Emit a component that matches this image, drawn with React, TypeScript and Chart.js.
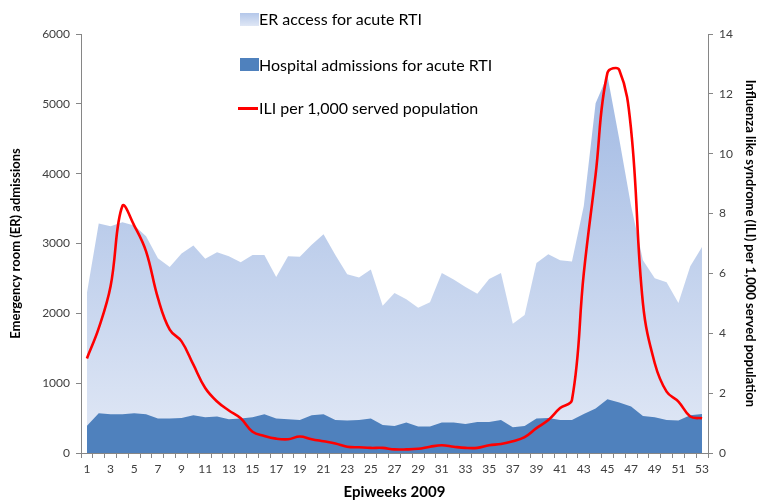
import React, { useEffect, useRef } from "react";
import { Chart, registerables } from "chart.js";

Chart.register(...registerables);

const weeks = [
  "1", "2", "3", "4", "5", "6", "7", "8", "9", "10",
  "11", "12", "13", "14", "15", "16", "17", "18", "19", "20",
  "21", "22", "23", "24", "25", "26", "27", "28", "29", "30",
  "31", "32", "33", "34", "35", "36", "37", "38", "39", "40",
  "41", "42", "43", "44", "45", "46", "47", "48", "49", "50",
  "51", "52", "53",
];

const erAccess = [
  2292, 3287, 3248, 3306, 3258, 3105, 2789, 2665, 2856, 2971,
  2780, 2876, 2818, 2732, 2837, 2837, 2522, 2818, 2809, 2981,
  3134, 2837, 2560, 2512, 2627, 2110, 2292, 2200, 2081, 2158,
  2579, 2483, 2378, 2282, 2493, 2579, 1852, 1976, 2722, 2847,
  2761, 2742, 3536, 5010, 5401, 4493, 3536, 2761, 2502, 2445,
  2148, 2675, 2952,
];

const hospitalAdmissions = [
  388, 569, 555, 555, 569, 555, 493, 493, 500, 541,
  512, 522, 483, 493, 512, 555, 493, 483, 474, 541,
  555, 474, 464, 474, 493, 400, 385, 435, 378, 378,
  435, 435, 416, 445, 445, 474, 368, 388, 493, 502,
  474, 474, 560, 636, 771, 722, 665, 531, 512, 474,
  464, 541, 560,
];

const iliRate = [
  3.16, 4.17, 5.57, 8.25, 7.6, 6.74, 5.18, 4.12, 3.73, 2.95,
  2.17, 1.72, 1.42, 1.16, 0.71, 0.57, 0.48, 0.46, 0.55, 0.46,
  0.39, 0.32, 0.21, 0.19, 0.17, 0.17, 0.12, 0.12, 0.14, 0.21,
  0.26, 0.21, 0.17, 0.17, 0.26, 0.3, 0.39, 0.53, 0.83, 1.1,
  1.5, 1.77, 6.0, 9.3, 12.7, 12.8, 10.8, 5.0, 3.0, 2.05,
  1.72, 1.22, 1.16,
];

const legendLabels = [
  "ER access for acute RTI",
  "Hospital admissions for acute RTI",
  "ILI per 1,000 served population",
];

const FONT = "Lato, 'Open Sans', sans-serif";

export default function App() {
  const canvasRef = useRef<HTMLCanvasElement | null>(null);

  useEffect(() => {
    document.body.style.margin = "0";
    const canvas = canvasRef.current;
    if (!canvas) return;
    const chart = new Chart(canvas, {
      type: "line",
      data: {
        labels: weeks,
        datasets: [
          {
            label: legendLabels[2],
            data: iliRate,
            yAxisID: "y1",
            borderColor: "#ff0000",
            borderWidth: 2.6,
            pointRadius: 0,
            tension: 0.4,
            fill: false,
            order: 0,
          },
          {
            label: legendLabels[1],
            data: hospitalAdmissions,
            yAxisID: "y",
            borderWidth: 0,
            borderColor: "#4f81bd",
            backgroundColor: "#4f81bd",
            pointRadius: 0,
            tension: 0,
            fill: "origin",
            order: 1,
          },
          {
            label: legendLabels[0],
            data: erAccess,
            yAxisID: "y",
            borderWidth: 0,
            borderColor: "rgba(0,0,0,0)",
            backgroundColor: (ctx: any) => {
              const area = ctx.chart.chartArea;
              if (!area) return "#c3d2ec";
              const g = ctx.chart.ctx.createLinearGradient(0, area.top, 0, area.bottom);
              g.addColorStop(0, "#9ab4e1");
              g.addColorStop(1, "#e2e9f6");
              return g;
            },
            pointRadius: 0,
            tension: 0,
            fill: "origin",
            order: 2,
          },
        ],
      },
      options: {
        responsive: false,
        animation: false,
        layout: { padding: { top: 34, left: 0, right: 0, bottom: 0 } },
        plugins: {
          legend: { display: false },
          tooltip: { enabled: false },
        },
        scales: {
          x: {
            type: "category",
            offset: true,
            grid: {
              offset: true,
              drawOnChartArea: false,
              tickLength: 5,
              color: "#868686",
            },
            border: { color: "#868686" },
            ticks: {
              autoSkip: false,
              maxRotation: 0,
              minRotation: 0,
              padding: 4,
              color: "#404040",
              font: { family: FONT, size: 12 },
              callback: (_v: any, i: number) => (i % 2 === 0 ? weeks[i] : ""),
            },
            title: {
              display: true,
              text: "Epiweeks 2009",
              color: "#000",
              font: { family: FONT, size: 15, weight: "bold" },
              padding: { top: 11, bottom: 0 },
            },
            afterFit: (s: any) => {
              s.height = 48;
            },
          },
          y: {
            position: "left",
            min: 0,
            max: 6000,
            grid: { drawOnChartArea: false, tickLength: 5, color: "#868686" },
            border: { color: "#868686" },
            ticks: {
              stepSize: 1000,
              padding: 6,
              color: "#404040",
              font: { family: FONT, size: 12 },
              callback: (v: any) => String(v),
            },
            title: {
              display: true,
              text: "Emergency room (ER) admissions",
              color: "#000",
              font: { family: FONT, size: 13, weight: "bold" },
              padding: { top: 8, bottom: 0 },
            },
            afterFit: (s: any) => {
              s.width = 81;
            },
          },
          y1: {
            position: "right",
            min: 0,
            max: 14,
            grid: { drawOnChartArea: false, tickLength: 5, color: "#868686" },
            border: { color: "#868686" },
            ticks: {
              stepSize: 2,
              padding: 6,
              color: "#404040",
              font: { family: FONT, size: 12 },
              callback: (v: any) => String(v),
            },
            title: {
              display: true,
              text: "Influenza like syndrome (ILI) per 1,000 served population",
              color: "#000",
              font: { family: FONT, size: 13, weight: "bold" },
              padding: { top: 0, bottom: 0 },
            },
            afterFit: (s: any) => {
              s.width = 50;
            },
          },
        },
      } as any,
    });
    return () => chart.destroy();
  }, []);

  const textStyle: React.CSSProperties = {
    position: "absolute",
    left: 259,
    fontFamily: FONT,
    fontSize: 16,
    color: "#000",
    whiteSpace: "nowrap",
    lineHeight: "18px",
  };

  return (
    <div style={{ position: "absolute", left: 0, top: 0, width: 758, height: 501, background: "#fff", overflow: "hidden" }}>
      <canvas ref={canvasRef} width={758} height={501} style={{ position: "absolute", left: 0, top: 0 }} />
      <div
        style={{
          position: "absolute",
          left: 240,
          top: 13,
          width: 19,
          height: 13,
          background: "linear-gradient(#b4c7ea, #dfe7f5)",
        }}
      />
      <div style={{ ...textStyle, top: 10 }}>{legendLabels[0]}</div>
      <div
        style={{
          position: "absolute",
          left: 240,
          top: 58,
          width: 19,
          height: 13,
          background: "#4f81bd",
        }}
      />
      <div style={{ ...textStyle, top: 56 }}>{legendLabels[1]}</div>
      <div
        style={{
          position: "absolute",
          left: 238,
          top: 107,
          width: 20,
          height: 3,
          background: "#ff0000",
        }}
      />
      <div style={{ ...textStyle, top: 99 }}>{legendLabels[2]}</div>
    </div>
  );
}
